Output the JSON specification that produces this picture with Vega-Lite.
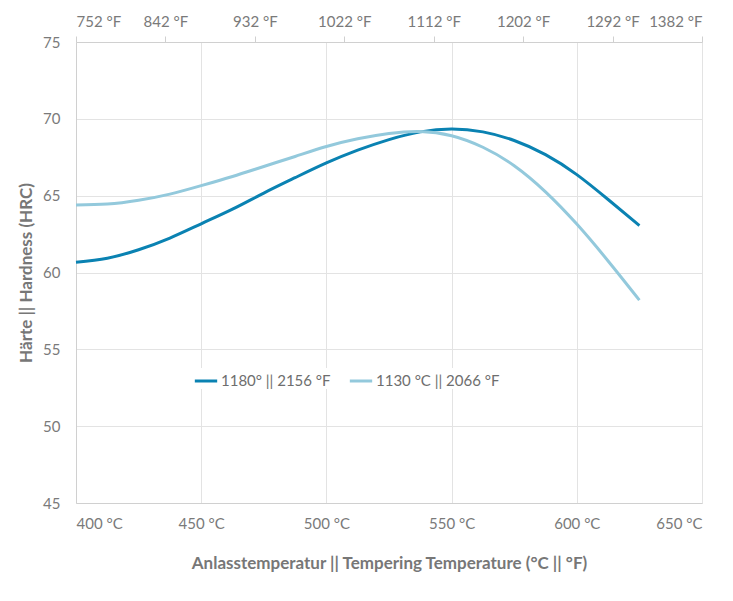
{
  "$schema": "https://vega.github.io/schema/vega-lite/v6.json",
  "width": 626,
  "height": 461,
  "autosize": {"type": "none"},
  "padding": {"left": 76, "top": 42, "right": 31, "bottom": 98},
  "background": "white",
  "config": {
    "font": "Lato",
    "view": {"stroke": null},
    "axis": {
      "labelColor": "#7a7a7a",
      "labelFont": "Lato",
      "labelFontSize": 15,
      "titleColor": "#777777",
      "titleFont": "Lato",
      "titleFontSize": 17,
      "titleFontWeight": "bold",
      "gridColor": "#e3e3e3",
      "domainColor": "#d0d0d0",
      "tickColor": "#d0d0d0"
    }
  },
  "datasets": {
    "curves": [
      {"T": 400, "HRC": 60.67, "series": "1180° || 2156 °F"},
      {"T": 412.5, "HRC": 60.93, "series": "1180° || 2156 °F"},
      {"T": 425, "HRC": 61.48, "series": "1180° || 2156 °F"},
      {"T": 437.5, "HRC": 62.24, "series": "1180° || 2156 °F"},
      {"T": 450, "HRC": 63.17, "series": "1180° || 2156 °F"},
      {"T": 462.5, "HRC": 64.12, "series": "1180° || 2156 °F"},
      {"T": 475, "HRC": 65.17, "series": "1180° || 2156 °F"},
      {"T": 487.5, "HRC": 66.17, "series": "1180° || 2156 °F"},
      {"T": 500, "HRC": 67.13, "series": "1180° || 2156 °F"},
      {"T": 512.5, "HRC": 67.96, "series": "1180° || 2156 °F"},
      {"T": 525, "HRC": 68.65, "series": "1180° || 2156 °F"},
      {"T": 537.5, "HRC": 69.15, "series": "1180° || 2156 °F"},
      {"T": 550, "HRC": 69.34, "series": "1180° || 2156 °F"},
      {"T": 562.5, "HRC": 69.15, "series": "1180° || 2156 °F"},
      {"T": 575, "HRC": 68.59, "series": "1180° || 2156 °F"},
      {"T": 587.5, "HRC": 67.67, "series": "1180° || 2156 °F"},
      {"T": 600, "HRC": 66.37, "series": "1180° || 2156 °F"},
      {"T": 612.5, "HRC": 64.75, "series": "1180° || 2156 °F"},
      {"T": 625, "HRC": 63.05, "series": "1180° || 2156 °F"},
      {"T": 400, "HRC": 64.39, "series": "1130 °C || 2066 °F"},
      {"T": 412.5, "HRC": 64.45, "series": "1130 °C || 2066 °F"},
      {"T": 425, "HRC": 64.7, "series": "1130 °C || 2066 °F"},
      {"T": 437.5, "HRC": 65.1, "series": "1130 °C || 2066 °F"},
      {"T": 450, "HRC": 65.65, "series": "1130 °C || 2066 °F"},
      {"T": 462.5, "HRC": 66.25, "series": "1130 °C || 2066 °F"},
      {"T": 475, "HRC": 66.9, "series": "1130 °C || 2066 °F"},
      {"T": 487.5, "HRC": 67.55, "series": "1130 °C || 2066 °F"},
      {"T": 500, "HRC": 68.2, "series": "1130 °C || 2066 °F"},
      {"T": 512.5, "HRC": 68.7, "series": "1130 °C || 2066 °F"},
      {"T": 525, "HRC": 69.05, "series": "1130 °C || 2066 °F"},
      {"T": 537.5, "HRC": 69.18, "series": "1130 °C || 2066 °F"},
      {"T": 550, "HRC": 68.9, "series": "1130 °C || 2066 °F"},
      {"T": 562.5, "HRC": 68.15, "series": "1130 °C || 2066 °F"},
      {"T": 575, "HRC": 66.95, "series": "1130 °C || 2066 °F"},
      {"T": 587.5, "HRC": 65.25, "series": "1130 °C || 2066 °F"},
      {"T": 600, "HRC": 63.15, "series": "1130 °C || 2066 °F"},
      {"T": 612.5, "HRC": 60.75, "series": "1130 °C || 2066 °F"},
      {"T": 625, "HRC": 58.2, "series": "1130 °C || 2066 °F"}
    ],
    "fahrenheit": [
      {"F": 752}, {"F": 842}, {"F": 932}, {"F": 1022},
      {"F": 1112}, {"F": 1202}, {"F": 1292}, {"F": 1382}
    ]
  },
  "layer": [
    {
      "data": {"name": "curves"},
      "mark": {"type": "line", "interpolate": "natural", "strokeWidth": 3},
      "encoding": {
        "x": {
          "field": "T",
          "type": "quantitative",
          "scale": {"domain": [400, 650], "nice": false, "zero": false},
          "axis": {
            "values": [400, 450, 500, 550, 600, 650],
            "labelExpr": "datum.value + ' °C'",
            "title": "Anlasstemperatur || Tempering Temperature (°C || °F)",
            "titlePadding": 24,
            "ticks": false,
            "labelPadding": 13
          }
        },
        "y": {
          "field": "HRC",
          "type": "quantitative",
          "scale": {"domain": [45, 75], "nice": false, "zero": false},
          "axis": {
            "values": [45, 50, 55, 60, 65, 70, 75],
            "title": "Härte || Hardness (HRC)",
            "titlePadding": 7,
            "ticks": false,
            "labelPadding": 16
          }
        },
        "color": {
          "field": "series",
          "type": "nominal",
          "scale": {
            "domain": ["1180° || 2156 °F", "1130 °C || 2066 °F"],
            "range": ["#0a82b2", "#93c9dc"]
          },
          "legend": {
            "orient": "none",
            "legendX": 117,
            "legendY": 326,
            "direction": "horizontal",
            "title": null,
            "symbolType": "stroke",
            "symbolStrokeWidth": 3,
            "symbolSize": 500,
            "labelFontSize": 15,
            "labelColor": "#6e6e6e",
            "labelFont": "Lato",
            "columnPadding": 12,
            "labelOffset": 2,
            "fillColor": "white"
          }
        }
      }
    },
    {
      "data": {"name": "fahrenheit"},
      "mark": {"type": "point", "opacity": 0},
      "encoding": {
        "x": {
          "field": "F",
          "type": "quantitative",
          "scale": {"domain": [752, 1382], "nice": false, "zero": false},
          "axis": {
            "orient": "top",
            "values": [752, 842, 932, 1022, 1112, 1202, 1292, 1382],
            "labelExpr": "datum.value + ' °F'",
            "grid": false,
            "title": null,
            "tickSize": 6,
            "labelPadding": 7
          }
        },
        "y": {"datum": 60, "type": "quantitative"}
      }
    }
  ],
  "resolve": {"scale": {"x": "independent"}}
}
